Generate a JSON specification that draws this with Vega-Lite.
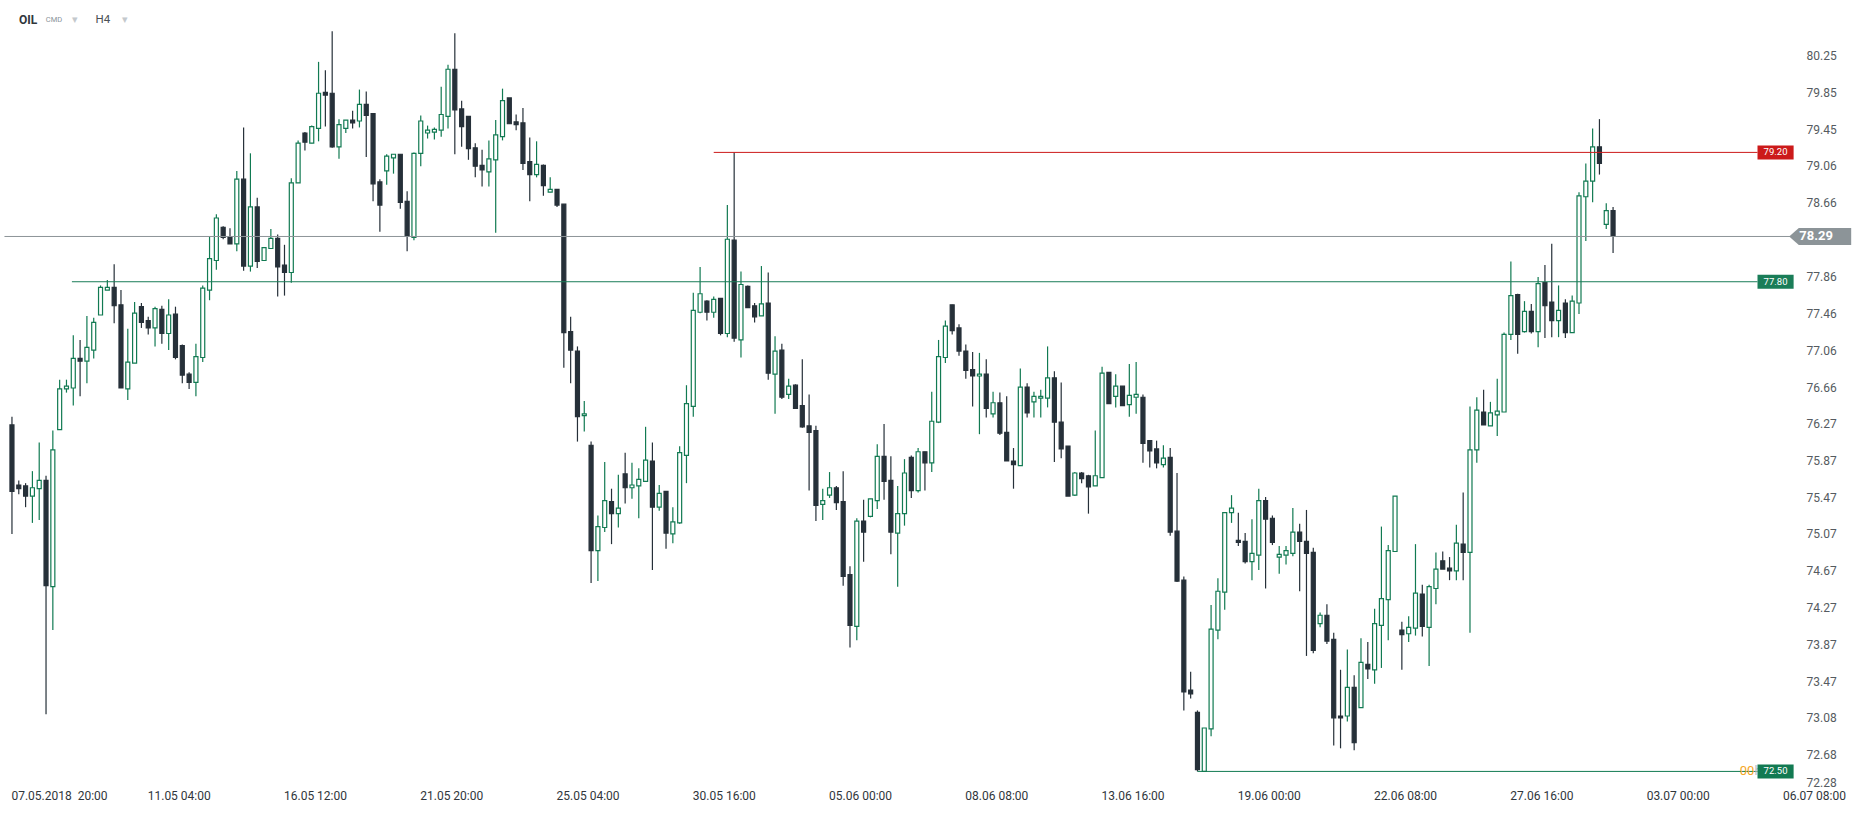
{
"$schema": "https://vega.github.io/schema/vega-lite/v6.json",
"width": 1866, "height": 815, "autosize": {"type": "none"}, "padding": 0, "background": "white",
"config": {"view": {"stroke": null}, "font": "Roboto", "axis": {"grid": false, "domain": false, "ticks": false}},
"datasets": {
"candles": [
{"i":0,"o":76.25,"h":76.34,"l":75.07,"c":75.53},{"i":1,"o":75.60,"h":75.65,"l":75.50,"c":75.56},{"i":2,"o":75.59,"h":75.62,"l":75.36,"c":75.48},{"i":3,"o":75.48,"h":75.75,"l":75.19,"c":75.57},{"i":4,"o":75.56,"h":76.06,"l":75.22,"c":75.65},
{"i":5,"o":75.65,"h":75.70,"l":73.12,"c":74.51},{"i":6,"o":74.50,"h":76.19,"l":74.03,"c":75.98},{"i":7,"o":76.20,"h":76.74,"l":76.20,"c":76.64},{"i":8,"o":76.64,"h":76.74,"l":76.60,"c":76.67},{"i":9,"o":76.65,"h":77.22,"l":76.46,"c":76.97},
{"i":10,"o":76.97,"h":77.17,"l":76.56,"c":76.94},{"i":11,"o":76.94,"h":77.43,"l":76.70,"c":77.09},{"i":12,"o":77.06,"h":77.41,"l":76.97,"c":77.36},{"i":13,"o":77.44,"h":77.76,"l":77.44,"c":77.74},{"i":14,"o":77.71,"h":77.82,"l":77.71,"c":77.74},
{"i":15,"o":77.74,"h":77.99,"l":77.35,"c":77.54},{"i":16,"o":77.55,"h":77.71,"l":76.65,"c":76.65},{"i":17,"o":76.64,"h":77.29,"l":76.52,"c":76.93},{"i":18,"o":76.92,"h":77.58,"l":76.92,"c":77.46},{"i":19,"o":77.53,"h":77.57,"l":77.30,"c":77.36},
{"i":20,"o":77.38,"h":77.42,"l":77.23,"c":77.30},{"i":21,"o":77.30,"h":77.53,"l":77.10,"c":77.51},{"i":22,"o":77.50,"h":77.54,"l":77.13,"c":77.24},{"i":23,"o":77.24,"h":77.61,"l":77.06,"c":77.44},{"i":24,"o":77.45,"h":77.53,"l":76.96,"c":76.98},
{"i":25,"o":77.11,"h":77.12,"l":76.70,"c":76.79},{"i":26,"o":76.80,"h":76.82,"l":76.64,"c":76.71},{"i":27,"o":76.71,"h":77.13,"l":76.56,"c":76.99},{"i":28,"o":76.98,"h":77.76,"l":76.93,"c":77.73},{"i":29,"o":77.71,"h":78.29,"l":77.60,"c":78.05},
{"i":30,"o":78.03,"h":78.53,"l":77.93,"c":78.49},{"i":31,"o":78.39,"h":78.40,"l":78.26,"c":78.28},{"i":32,"o":78.28,"h":78.38,"l":78.21,"c":78.21},{"i":33,"o":78.21,"h":79.00,"l":78.13,"c":78.91},{"i":34,"o":78.91,"h":79.47,"l":77.92,"c":77.97},
{"i":35,"o":77.97,"h":79.19,"l":77.91,"c":78.61},{"i":36,"o":78.61,"h":78.71,"l":77.95,"c":78.02},{"i":37,"o":78.03,"h":78.17,"l":78.03,"c":78.17},{"i":38,"o":78.16,"h":78.37,"l":78.16,"c":78.27},{"i":39,"o":78.27,"h":78.31,"l":77.64,"c":77.96},
{"i":40,"o":77.98,"h":78.20,"l":77.65,"c":77.90},{"i":41,"o":77.90,"h":78.92,"l":77.79,"c":78.87},{"i":42,"o":78.87,"h":79.33,"l":78.87,"c":79.30},{"i":43,"o":79.41,"h":79.42,"l":79.22,"c":79.31},{"i":44,"o":79.30,"h":79.49,"l":79.30,"c":79.48},
{"i":45,"o":79.46,"h":80.18,"l":79.32,"c":79.84},{"i":46,"o":79.85,"h":80.09,"l":79.48,"c":79.82},{"i":47,"o":79.84,"h":80.51,"l":79.25,"c":79.26},{"i":48,"o":79.26,"h":79.56,"l":79.13,"c":79.50},{"i":49,"o":79.46,"h":79.55,"l":79.41,"c":79.55},
{"i":50,"o":79.55,"h":79.65,"l":79.46,"c":79.52},{"i":51,"o":79.54,"h":79.88,"l":79.47,"c":79.72},{"i":52,"o":79.72,"h":79.86,"l":79.15,"c":79.60},{"i":53,"o":79.62,"h":79.62,"l":78.67,"c":78.86},{"i":54,"o":78.88,"h":78.91,"l":78.34,"c":78.63},
{"i":55,"o":79.00,"h":79.18,"l":78.85,"c":79.16},{"i":56,"o":79.14,"h":79.18,"l":78.97,"c":79.18},{"i":57,"o":79.18,"h":79.18,"l":78.59,"c":78.66},{"i":58,"o":78.67,"h":78.78,"l":78.13,"c":78.29},{"i":59,"o":78.28,"h":79.20,"l":78.25,"c":79.19},
{"i":60,"o":79.19,"h":79.60,"l":79.05,"c":79.54},{"i":61,"o":79.41,"h":79.49,"l":79.35,"c":79.44},{"i":62,"o":79.42,"h":79.47,"l":79.34,"c":79.45},{"i":63,"o":79.44,"h":79.91,"l":79.37,"c":79.61},{"i":64,"o":79.59,"h":80.15,"l":79.46,"c":80.10},
{"i":65,"o":80.10,"h":80.49,"l":79.18,"c":79.66},{"i":66,"o":79.67,"h":79.76,"l":79.26,"c":79.48},{"i":67,"o":79.59,"h":79.59,"l":79.12,"c":79.24},{"i":68,"o":79.25,"h":79.30,"l":78.93,"c":79.05},{"i":69,"o":79.06,"h":79.23,"l":78.83,"c":79.01},
{"i":70,"o":78.99,"h":79.33,"l":78.83,"c":79.13},{"i":71,"o":79.12,"h":79.55,"l":78.33,"c":79.39},{"i":72,"o":79.37,"h":79.89,"l":79.33,"c":79.76},{"i":73,"o":79.79,"h":79.79,"l":79.51,"c":79.51},{"i":74,"o":79.53,"h":79.61,"l":79.44,"c":79.50},
{"i":75,"o":79.52,"h":79.68,"l":79.01,"c":79.08},{"i":76,"o":79.10,"h":79.36,"l":78.67,"c":78.96},{"i":77,"o":78.96,"h":79.32,"l":78.93,"c":79.07},{"i":78,"o":79.06,"h":79.07,"l":78.73,"c":78.84},{"i":79,"o":78.77,"h":78.93,"l":78.77,"c":78.80},
{"i":80,"o":78.80,"h":78.80,"l":78.61,"c":78.63},{"i":81,"o":78.64,"h":78.64,"l":76.87,"c":77.25},{"i":82,"o":77.26,"h":77.42,"l":76.70,"c":77.06},{"i":83,"o":77.05,"h":77.10,"l":76.07,"c":76.34},{"i":84,"o":76.35,"h":76.51,"l":76.18,"c":76.37},
{"i":85,"o":76.03,"h":76.07,"l":74.54,"c":74.89},{"i":86,"o":74.89,"h":75.27,"l":74.56,"c":75.15},{"i":87,"o":75.14,"h":75.85,"l":75.09,"c":75.43},{"i":88,"o":75.42,"h":75.56,"l":74.96,"c":75.29},{"i":89,"o":75.29,"h":75.71,"l":75.14,"c":75.35},
{"i":90,"o":75.72,"h":75.95,"l":75.40,"c":75.57},{"i":91,"o":75.57,"h":75.84,"l":75.45,"c":75.60},{"i":92,"o":75.59,"h":75.78,"l":75.24,"c":75.66},{"i":93,"o":75.64,"h":76.23,"l":75.64,"c":75.87},{"i":94,"o":75.86,"h":76.06,"l":74.68,"c":75.36},
{"i":95,"o":75.36,"h":75.60,"l":75.32,"c":75.51},{"i":96,"o":75.53,"h":75.53,"l":74.91,"c":75.08},{"i":97,"o":75.07,"h":75.36,"l":74.97,"c":75.20},{"i":98,"o":75.19,"h":76.02,"l":75.18,"c":75.95},{"i":99,"o":75.92,"h":76.68,"l":75.62,"c":76.48},
{"i":100,"o":76.45,"h":77.68,"l":76.34,"c":77.49},{"i":101,"o":77.47,"h":77.96,"l":77.46,"c":77.67},{"i":102,"o":77.59,"h":77.60,"l":77.38,"c":77.47},{"i":103,"o":77.47,"h":77.64,"l":77.41,"c":77.61},{"i":104,"o":77.62,"h":77.62,"l":77.22,"c":77.24},
{"i":105,"o":77.24,"h":78.63,"l":77.20,"c":78.26},{"i":106,"o":78.25,"h":79.20,"l":77.15,"c":77.19},{"i":107,"o":77.17,"h":77.91,"l":76.98,"c":77.77},{"i":108,"o":77.75,"h":77.76,"l":77.52,"c":77.52},{"i":109,"o":77.54,"h":77.57,"l":77.36,"c":77.42},
{"i":110,"o":77.43,"h":77.97,"l":77.43,"c":77.56},{"i":111,"o":77.57,"h":77.90,"l":76.74,"c":76.81},{"i":112,"o":76.80,"h":77.21,"l":76.37,"c":77.05},{"i":113,"o":77.06,"h":77.13,"l":76.53,"c":76.55},{"i":114,"o":76.58,"h":76.75,"l":76.53,"c":76.67},
{"i":115,"o":76.68,"h":76.69,"l":76.43,"c":76.43},{"i":116,"o":76.46,"h":76.96,"l":76.22,"c":76.23},{"i":117,"o":76.24,"h":76.58,"l":75.54,"c":76.17},{"i":118,"o":76.19,"h":76.24,"l":75.21,"c":75.38},{"i":119,"o":75.39,"h":75.56,"l":75.22,"c":75.43},
{"i":120,"o":75.49,"h":75.74,"l":75.46,"c":75.57},{"i":121,"o":75.57,"h":75.59,"l":75.33,"c":75.41},{"i":122,"o":75.42,"h":75.75,"l":74.51,"c":74.61},{"i":123,"o":74.63,"h":74.72,"l":73.84,"c":74.08},{"i":124,"o":74.07,"h":75.24,"l":73.92,"c":75.21},
{"i":125,"o":75.21,"h":75.44,"l":74.77,"c":75.09},{"i":126,"o":75.26,"h":75.45,"l":75.25,"c":75.45},{"i":127,"o":75.43,"h":76.04,"l":75.34,"c":75.91},{"i":128,"o":75.91,"h":76.26,"l":75.44,"c":75.64},{"i":129,"o":75.65,"h":75.91,"l":74.85,"c":75.09},
{"i":130,"o":75.08,"h":75.59,"l":74.50,"c":75.29},{"i":131,"o":75.29,"h":75.88,"l":75.16,"c":75.73},{"i":132,"o":75.90,"h":75.92,"l":75.46,"c":75.54},{"i":133,"o":75.54,"h":76.00,"l":75.52,"c":75.96},{"i":134,"o":75.96,"h":75.96,"l":75.54,"c":75.84},
{"i":135,"o":75.84,"h":76.61,"l":75.74,"c":76.29},{"i":136,"o":76.28,"h":77.17,"l":76.27,"c":76.99},{"i":137,"o":76.98,"h":77.38,"l":76.92,"c":77.32},{"i":138,"o":77.55,"h":77.55,"l":77.23,"c":77.27},{"i":139,"o":77.30,"h":77.34,"l":77.00,"c":77.05},
{"i":140,"o":77.05,"h":77.12,"l":76.75,"c":76.84},{"i":141,"o":76.85,"h":77.04,"l":76.45,"c":76.78},{"i":142,"o":76.78,"h":77.03,"l":76.15,"c":76.80},{"i":143,"o":76.80,"h":76.96,"l":76.33,"c":76.43},{"i":144,"o":76.37,"h":76.61,"l":76.33,"c":76.49},
{"i":145,"o":76.49,"h":76.60,"l":76.14,"c":76.16},{"i":146,"o":76.17,"h":76.56,"l":75.86,"c":75.86},{"i":147,"o":75.86,"h":76.00,"l":75.56,"c":75.82},{"i":148,"o":75.81,"h":76.86,"l":75.81,"c":76.66},{"i":149,"o":76.66,"h":76.70,"l":76.33,"c":76.38},
{"i":150,"o":76.50,"h":76.61,"l":76.33,"c":76.56},{"i":151,"o":76.54,"h":76.63,"l":76.33,"c":76.56},{"i":152,"o":76.54,"h":77.10,"l":76.44,"c":76.76},{"i":153,"o":76.76,"h":76.83,"l":75.85,"c":76.28},{"i":154,"o":76.28,"h":76.71,"l":75.89,"c":75.99},
{"i":155,"o":76.02,"h":76.02,"l":75.48,"c":75.48},{"i":156,"o":75.49,"h":75.74,"l":75.48,"c":75.73},{"i":157,"o":75.73,"h":75.74,"l":75.62,"c":75.67},{"i":158,"o":75.70,"h":75.71,"l":75.29,"c":75.58},{"i":159,"o":75.59,"h":76.19,"l":75.59,"c":75.70},
{"i":160,"o":75.68,"h":76.88,"l":75.68,"c":76.81},{"i":161,"o":76.82,"h":76.82,"l":76.48,"c":76.48},{"i":162,"o":76.56,"h":76.80,"l":76.44,"c":76.67},{"i":163,"o":76.67,"h":76.67,"l":76.46,"c":76.46},{"i":164,"o":76.47,"h":76.91,"l":76.34,"c":76.57},
{"i":165,"o":76.55,"h":76.93,"l":76.37,"c":76.58},{"i":166,"o":76.55,"h":76.58,"l":75.84,"c":76.05},{"i":167,"o":76.08,"h":76.08,"l":75.79,"c":75.97},{"i":168,"o":75.99,"h":76.08,"l":75.78,"c":75.84},{"i":169,"o":75.82,"h":76.03,"l":75.79,"c":75.89},
{"i":170,"o":75.90,"h":76.00,"l":75.05,"c":75.09},{"i":171,"o":75.10,"h":75.73,"l":74.55,"c":74.56},{"i":172,"o":74.57,"h":74.61,"l":73.16,"c":73.36},{"i":173,"o":73.38,"h":73.58,"l":73.29,"c":73.34},{"i":174,"o":73.14,"h":73.16,"l":72.50,"c":72.52},
{"i":175,"o":72.50,"h":72.97,"l":72.50,"c":72.97},{"i":176,"o":72.96,"h":74.30,"l":72.88,"c":74.04},{"i":177,"o":74.03,"h":74.59,"l":73.93,"c":74.45},{"i":178,"o":74.44,"h":75.30,"l":74.25,"c":75.30},{"i":179,"o":75.30,"h":75.49,"l":75.19,"c":75.35},
{"i":180,"o":75.00,"h":75.30,"l":74.94,"c":74.98},{"i":181,"o":74.99,"h":75.08,"l":74.75,"c":74.77},{"i":182,"o":74.77,"h":75.23,"l":74.57,"c":74.86},{"i":183,"o":74.84,"h":75.56,"l":74.68,"c":75.43},{"i":184,"o":75.43,"h":75.47,"l":74.48,"c":75.23},
{"i":185,"o":75.24,"h":75.27,"l":74.95,"c":74.98},{"i":186,"o":74.82,"h":74.94,"l":74.64,"c":74.85},{"i":187,"o":74.84,"h":74.94,"l":74.74,"c":74.89},{"i":188,"o":74.86,"h":75.35,"l":74.83,"c":75.09},{"i":189,"o":75.09,"h":75.18,"l":74.45,"c":74.99},
{"i":190,"o":74.99,"h":75.33,"l":73.75,"c":74.86},{"i":191,"o":74.87,"h":74.92,"l":73.78,"c":73.81},{"i":192,"o":74.10,"h":74.22,"l":74.06,"c":74.19},{"i":193,"o":74.19,"h":74.31,"l":73.88,"c":73.91},{"i":194,"o":73.93,"h":74.00,"l":72.78,"c":73.08},
{"i":195,"o":73.10,"h":73.60,"l":72.75,"c":73.08},{"i":196,"o":73.10,"h":73.82,"l":73.04,"c":73.41},{"i":197,"o":73.41,"h":73.54,"l":72.73,"c":72.81},{"i":198,"o":73.19,"h":73.94,"l":73.19,"c":73.68},{"i":199,"o":73.66,"h":73.90,"l":73.50,"c":73.61},
{"i":200,"o":73.60,"h":74.26,"l":73.45,"c":74.10},{"i":201,"o":74.08,"h":75.15,"l":73.62,"c":74.37},{"i":202,"o":74.36,"h":74.95,"l":73.92,"c":74.89},{"i":203,"o":74.88,"h":75.48,"l":74.88,"c":75.48},{"i":204,"o":74.03,"h":74.12,"l":73.60,"c":73.98},
{"i":205,"o":73.99,"h":74.18,"l":73.90,"c":74.06},{"i":206,"o":74.05,"h":74.96,"l":73.97,"c":74.43},{"i":207,"o":74.42,"h":74.52,"l":73.96,"c":74.07},{"i":208,"o":74.06,"h":74.52,"l":73.64,"c":74.50},{"i":209,"o":74.48,"h":74.87,"l":74.31,"c":74.69},
{"i":210,"o":74.78,"h":74.88,"l":74.69,"c":74.69},{"i":211,"o":74.70,"h":74.82,"l":74.57,"c":74.67},{"i":212,"o":74.67,"h":75.17,"l":74.57,"c":74.97},{"i":213,"o":74.96,"h":75.52,"l":74.57,"c":74.87},{"i":214,"o":74.87,"h":76.45,"l":74.00,"c":75.98},
{"i":215,"o":75.98,"h":76.55,"l":75.84,"c":76.41},{"i":216,"o":76.39,"h":76.63,"l":76.25,"c":76.25},{"i":217,"o":76.24,"h":76.50,"l":76.24,"c":76.38},{"i":218,"o":76.36,"h":76.75,"l":76.13,"c":76.40},{"i":219,"o":76.39,"h":77.25,"l":76.39,"c":77.23},
{"i":220,"o":77.23,"h":78.02,"l":77.17,"c":77.65},{"i":221,"o":77.66,"h":77.67,"l":77.02,"c":77.23},{"i":222,"o":77.26,"h":77.59,"l":77.25,"c":77.48},{"i":223,"o":77.48,"h":77.56,"l":77.24,"c":77.26},{"i":224,"o":77.26,"h":77.85,"l":77.09,"c":77.78},
{"i":225,"o":77.79,"h":77.98,"l":77.19,"c":77.54},{"i":226,"o":77.58,"h":78.21,"l":77.20,"c":77.38},{"i":227,"o":77.38,"h":77.76,"l":77.20,"c":77.49},{"i":228,"o":77.57,"h":77.61,"l":77.19,"c":77.25},{"i":229,"o":77.25,"h":77.65,"l":77.25,"c":77.59},
{"i":230,"o":77.57,"h":78.77,"l":77.45,"c":78.73},{"i":231,"o":78.72,"h":79.08,"l":78.24,"c":78.89},{"i":232,"o":78.89,"h":79.46,"l":78.66,"c":79.26},{"i":233,"o":79.26,"h":79.56,"l":78.96,"c":79.08},{"i":234,"o":78.42,"h":78.65,"l":78.37,"c":78.57},
{"i":235,"o":78.57,"h":78.61,"l":78.11,"c":78.29}
],
"levels": [
{"price": 79.20, "label": "79.20", "from": 103, "kind": "resistance"},
{"price": 77.80, "label": "77.80", "from": 8.8, "kind": "support"},
{"price": 72.50, "label": "72.50", "from": 174, "kind": "low"}
],
"last": [{"price": 78.29, "label": "78.29"}],
"one": [{}]
},
"layer": [
{"data": {"name": "candles"}, "mark": {"type": "rule", "strokeWidth": 1.2},
 "encoding": {
  "x": {"field": "i", "type": "quantitative", "scale": {"domain": [-1.022, 271.39], "nice": false, "zero": false},
   "axis": {"orient": "bottom", "offset": -30, "title": null, "values": [0,20,40,60,80,100,120,140,160,180,200,220,240,260],
    "labelExpr": "['07.05.2018\u00a0\u00a020:00','11.05 04:00','16.05 12:00','21.05 20:00','25.05 04:00','30.05 16:00','05.06 00:00','08.06 08:00','13.06 16:00','19.06 00:00','22.06 08:00','27.06 16:00','03.07 00:00','06.07 08:00'][round(datum.value/20)]",
    "labelAlign": "left", "labelBaseline": "top", "labelPadding": 5, "labelFontSize": 12, "labelColor": "#30363b", "labelFont": "Roboto", "labelOverlap": false, "labelFlush": false, "labelBound": false, "labelOffset": -1}},
  "y": {"field": "l", "type": "quantitative", "scale": {"domain": [72.0282, 80.8495], "nice": false, "zero": false},
   "axis": {"orient": "right", "offset": -64, "title": null, "values": [80.25,79.85,79.45,79.06,78.66,77.86,77.46,77.06,76.66,76.27,75.87,75.47,75.07,74.67,74.27,73.87,73.47,73.08,72.68,72.28],
    "format": ".2f", "labelAlign": "left", "labelPadding": 4, "labelFontSize": 12, "labelColor": "#555b60", "labelFont": "Roboto", "labelOverlap": false, "labelFlush": false, "labelBound": false,
    "labelBaseline": {"condition": {"test": "datum.value < 72.4", "value": "bottom"}, "value": "middle"},
    "labelOffset": {"condition": {"test": "datum.value < 72.4", "value": -2}, "value": 0}}},
  "y2": {"field": "h"},
  "color": {"condition": {"test": "datum.c >= datum.o", "value": "#117a52"}, "value": "#263039"}
 }},
{"data": {"name": "candles"}, "mark": {"type": "bar", "size": 4, "strokeWidth": 1.2},
 "encoding": {
  "x": {"field": "i", "type": "quantitative"},
  "y": {"field": "o", "type": "quantitative"},
  "y2": {"field": "c"},
  "fill": {"condition": {"test": "datum.c >= datum.o", "value": "#ffffff"}, "value": "#263039"},
  "stroke": {"condition": {"test": "datum.c >= datum.o", "value": "#117a52"}, "value": "#263039"}
 }},
{"data": {"name": "levels"}, "mark": {"type": "rule", "strokeWidth": 1},
 "encoding": {
  "x": {"field": "from", "type": "quantitative"},
  "x2": {"datum": 256.2},
  "y": {"field": "price", "type": "quantitative"},
  "color": {"field": "kind", "type": "nominal", "scale": {"domain": ["resistance", "support", "low"], "range": ["#cc1a1a", "#1a7d58", "#127a52"]}, "legend": null}
 }},
{"data": {"name": "last"}, "mark": {"type": "rule", "strokeWidth": 1, "color": "#8c9498"},
 "encoding": {
  "x": {"datum": -1.1},
  "x2": {"datum": 262},
  "y": {"field": "price", "type": "quantitative"}
 }},
{"data": {"name": "one"}, "mark": {"type": "text", "text": "00", "color": "#f5a623", "align": "right", "baseline": "middle", "fontSize": 13},
 "encoding": {"x": {"datum": 255.75}, "y": {"datum": 72.50}}},
{"data": {"name": "one"}, "mark": {"type": "text", "text": "h", "color": "#b8bcbf", "align": "left", "baseline": "middle", "fontSize": 13},
 "encoding": {"x": {"datum": 255.75}, "y": {"datum": 72.50}}},
{"data": {"name": "levels"}, "mark": {"type": "rect", "yOffset": -7, "y2Offset": 7},
 "encoding": {
  "x": {"datum": 256.2},
  "x2": {"datum": 261.5},
  "y": {"field": "price", "type": "quantitative"},
  "y2": {"field": "price"},
  "color": {"field": "kind", "type": "nominal", "legend": null}
 }},
{"data": {"name": "levels"}, "mark": {"type": "text", "color": "#ffffff", "fontSize": 9.5, "align": "center", "baseline": "middle"},
 "encoding": {
  "x": {"datum": 258.85},
  "y": {"field": "price", "type": "quantitative"},
  "text": {"field": "label"}
 }},
{"data": {"name": "last"}, "mark": {"type": "point", "filled": true, "opacity": 1, "color": "#8c9498", "size": 3844, "shape": "M-1,0L-0.69,-0.274L1,-0.274L1,0.274L-0.69,0.274Z"},
 "encoding": {
  "x": {"datum": 265.4},
  "y": {"field": "price", "type": "quantitative"}
 }},
{"data": {"name": "last"}, "mark": {"type": "text", "color": "#ffffff", "fontSize": 13, "fontWeight": "bold", "align": "center", "baseline": "middle"},
 "encoding": {
  "x": {"datum": 264.8},
  "y": {"field": "price", "type": "quantitative"},
  "text": {"field": "label"}
 }},
{"data": {"name": "one"}, "mark": {"type": "text", "text": "OIL", "color": "#30363b", "align": "left", "baseline": "middle", "fontSize": 12, "fontWeight": "bold"},
 "encoding": {"x": {"datum": 1.02}, "y": {"datum": 80.634}}},
{"data": {"name": "one"}, "mark": {"type": "text", "text": "CMD", "color": "#8a9499", "align": "left", "baseline": "middle", "fontSize": 7.5},
 "encoding": {"x": {"datum": 4.96}, "y": {"datum": 80.634}}},
{"data": {"name": "one"}, "mark": {"type": "text", "text": "▾", "color": "#c4c9cd", "align": "left", "baseline": "middle", "fontSize": 11},
 "encoding": {"x": {"datum": 8.76}, "y": {"datum": 80.634}}},
{"data": {"name": "one"}, "mark": {"type": "text", "text": "H4", "color": "#4a5055", "align": "left", "baseline": "middle", "fontSize": 11.5},
 "encoding": {"x": {"datum": 12.26}, "y": {"datum": 80.634}}},
{"data": {"name": "one"}, "mark": {"type": "text", "text": "▾", "color": "#c4c9cd", "align": "left", "baseline": "middle", "fontSize": 11},
 "encoding": {"x": {"datum": 16.2}, "y": {"datum": 80.634}}}
]
}
